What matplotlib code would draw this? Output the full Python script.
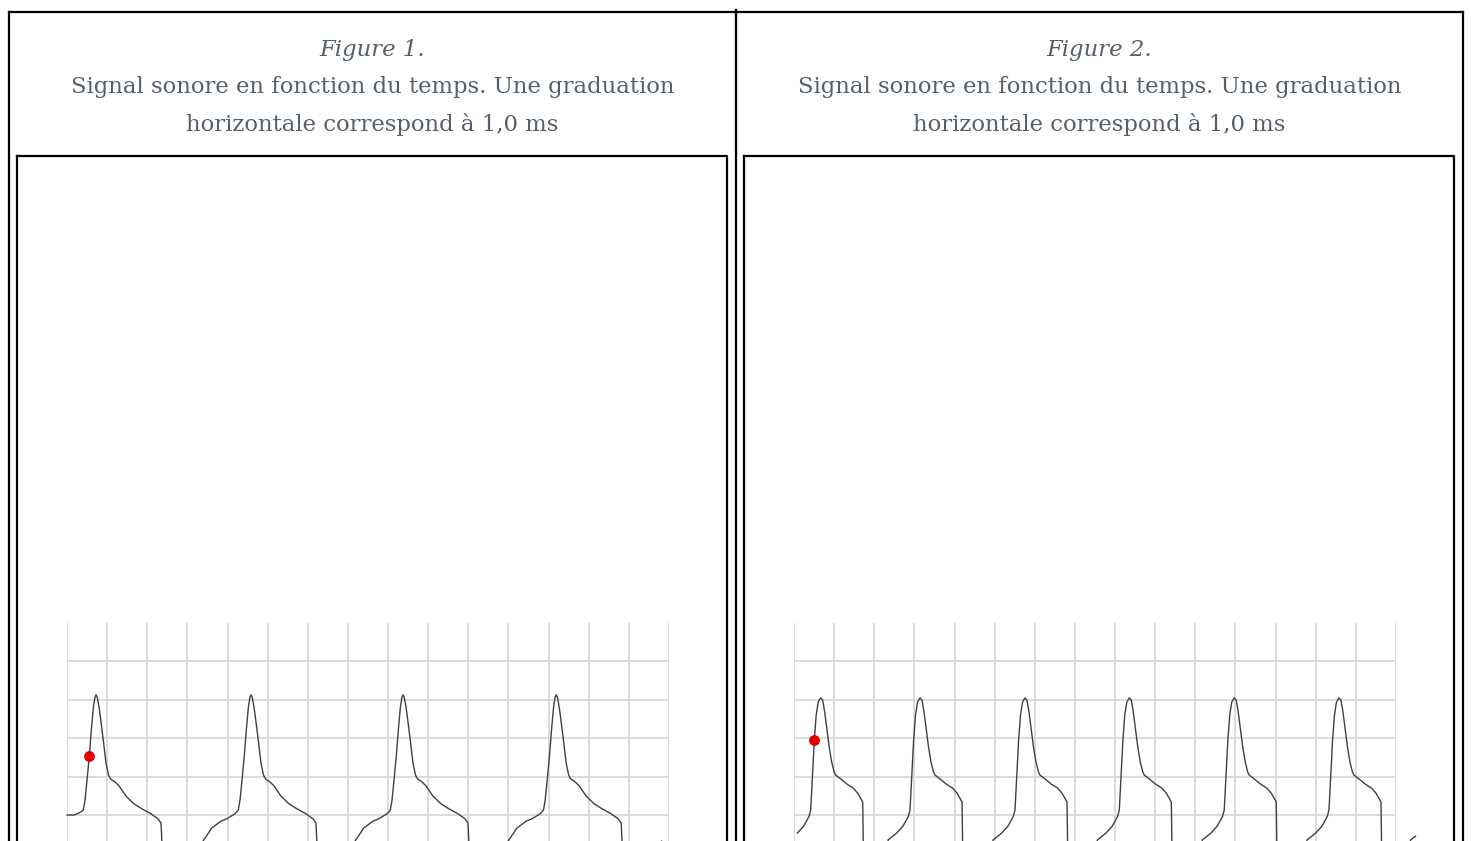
import numpy as np
import matplotlib
matplotlib.use('Agg')
from matplotlib import pyplot as plt

# textes
titres = ['Figure 1.', 'Figure 2.']
legende = ['Signal sonore en fonction du temps. Une graduation',
           'horizontale correspond à 1,0 ms']

# une période du signal 1 (temps relatif au pic, en graduations ; amplitude en graduations)
cycle1_t = [-1.196, -0.979, -0.748, -0.606, -0.40, -0.316, -0.274, -0.224, -0.167, -0.112,
            -0.062, -0.025, 0.0, 0.03, 0.075, 0.125, 0.187, 0.249, 0.311, 0.361,
            0.473, 0.573, 0.748, 0.947, 1.146, 1.371, 1.545, 1.62, 1.645,
            1.68, 1.9, 2.2, 2.45]
cycle1_y = [-0.68, -0.34, -0.16, -0.10, 0.03, 0.13, 0.39, 0.91, 1.54, 2.27,
            2.84, 3.07, 3.13, 3.07, 2.81, 2.42, 1.90, 1.35, 1.04, 0.94,
            0.86, 0.76, 0.49, 0.29, 0.16, 0.03, -0.10, -0.21, -0.78,
            -3.0, -3.5, -3.0, -1.6]
pics1 = [0.723, 4.585, 8.373, 12.19, 16.01]
debut1_t = [0.0, 0.18, 0.33]
debut1_y = [0.0, 0.0, 0.07]
fin1 = 15.0
point1 = (0.556, 1.54)

# une période du signal 2
cycle2_t = [-0.797, -0.673, -0.581, -0.424, -0.292, -0.249, -0.224, -0.187, -0.159, -0.112,
            -0.062, 0.0, 0.05, 0.10, 0.15, 0.212, 0.274, 0.336, 0.374,
            0.498, 0.648, 0.812, 0.922, 1.047, 1.062,
            1.09, 1.3, 1.55, 1.75]
cycle2_y = [-0.65, -0.55, -0.47, -0.29, -0.04, 0.13, 0.65, 1.43, 1.95, 2.60,
            2.94, 3.05, 2.99, 2.68, 2.27, 1.77, 1.38, 1.12, 1.04,
            0.94, 0.81, 0.70, 0.57, 0.34, -0.78,
            -2.8, -3.3, -2.6, -1.3]
pics2 = [0.665, 3.14, 5.756, 8.355, 10.97, 13.58, 16.16]
fin2 = 15.5
point2 = (0.506, 1.95)

W, H = 1471, 841
fig = plt.figure(figsize=(W / 100, H / 100), dpi=100)

# cadres du tableau (en pixels)
fond = fig.add_axes([0, 0, 1, 1])
fond.set_xlim(0, W)
fond.set_ylim(H, 0)
fond.axis('off')
noir = dict(color='black', lw=1.6, solid_capstyle='projecting')
fond.plot([9, 1463], [12, 12], **noir)
fond.plot([9, 9], [12, H + 5], **noir)
fond.plot([736, 736], [10, H + 5], **noir)
fond.plot([1463, 1463], [12, H + 5], **noir)
for x0, x1 in [(17.5, 727), (744.5, 1454)]:
    fond.plot([x0, x1, x1], [156, 156, H + 5], **noir)
    fond.plot([x0, x0], [156, H + 5], **noir)

gris_texte = '#56606b'
for i, cx in enumerate([372.5, 1099.5]):
    fond.text(cx, 50, titres[i], ha='center', va='center', fontsize=16.4,
              style='italic', color=gris_texte, family='DejaVu Serif')
    fond.text(cx, 87, legende[0], ha='center', va='center', fontsize=16.4,
              color=gris_texte, family='DejaVu Serif')
    fond.text(cx, 124, legende[1], ha='center', va='center', fontsize=16.4,
              color=gris_texte, family='DejaVu Serif')


def trace(x_px, cycle_t, cycle_y, pics, fin, point, debut_t=None, debut_y=None):
    dx, dy = 40.13, 38.4
    y0_px = 815
    bas, haut = -5, 5
    ax = fig.add_axes([x_px / W, 1 - (y0_px - bas * dy) / H, 15 * dx / W, (haut - bas) * dy / H])
    ax.set_xlim(0, 15)
    ax.set_ylim(bas, haut)
    ax.axis('off')
    ax.vlines(np.arange(0, 16), bas, haut, color='#d9d9d9', lw=1.3, zorder=1)
    ax.hlines(np.arange(bas + 1, haut), 0, 15, color='#d9d9d9', lw=1.3, zorder=1)

    t = []
    y = []
    if debut_t is not None:
        t += debut_t
        y += debut_y
    ct = np.array(cycle_t)
    cy = np.array(cycle_y)
    for k, p in enumerate(pics):
        tt = ct + p
        yy = cy
        if k == 0 and debut_t is not None:
            m = ct >= -0.33
            tt, yy = tt[m], yy[m]
        t += list(tt)
        y += list(yy)
    t = np.array(t)
    y = np.array(y)
    m = (t >= 0) & (t <= fin)
    ax.plot(t[m], y[m], color='#404040', lw=1.0, clip_on=False, zorder=2)
    ax.plot([point[0]], [point[1]], 'o', color='#e30000', ms=6.8, zorder=3)


trace(67, cycle1_t, cycle1_y, pics1, fin1, point1, debut1_t, debut1_y)
trace(794, cycle2_t, cycle2_y, pics2, fin2, point2)

plt.savefig('out.png', dpi=100)
